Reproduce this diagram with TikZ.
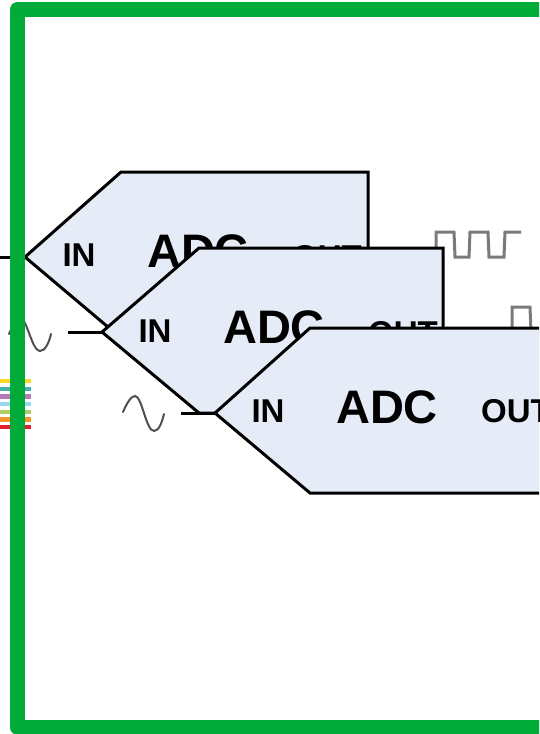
\documentclass[tikz,border=0pt]{standalone}
\usepackage{fontspec}
\setmainfont{Liberation Sans}
\definecolor{frameg}{HTML}{00AB39}
\definecolor{adcfill}{HTML}{E6ECF7}
\definecolor{wavegray}{HTML}{7A7A7A}
\definecolor{sinegray}{HTML}{505050}
\tikzset{
  adcshape/.style={draw=black,fill=adcfill,line width=3pt,line join=miter},
  wire/.style={draw=black,line width=3pt},
  sinewave/.style={draw=sinegray,line width=2pt,line cap=round},
  sqwave/.style={draw=wavegray,line width=3pt,line join=miter},
  busbar/.style={line width=4.4pt,line cap=butt},
  intext/.style={font=\bfseries\fontsize{33}{33}\selectfont,inner sep=0pt,text=black},
  adctext/.style={font=\bfseries\fontsize{47}{47}\selectfont,inner sep=0pt,text=black},
}
\begin{document}
\begin{tikzpicture}[x=1pt,y=-1pt]
\useasboundingbox (0,0) rectangle (539,734);
\clip (0,0) rectangle (539,734);
\fill[white] (0,0) rectangle (539,734);
% coordinates
\coordinate (w1) at (0,257);
\coordinate (a1) at (25,257);
\coordinate (w2) at (68,332);
\coordinate (a2) at (102,332);
\coordinate (w3) at (181,413);
\coordinate (a3) at (215,413);
% wires
\draw[wire] (w1) -- (a1);
\draw[wire] (w2) -- (a2);
\draw[wire] (w3) -- (a3);
% colour bus
\draw[busbar,color={rgb,255:red,255;green,214;blue,40}] (-2,381) -- (30.5,381);
\draw[busbar,color={rgb,255:red,70;green,176;blue,172}] (-2,388.7) -- (30.5,388.7);
\draw[busbar,color={rgb,255:red,181;green,122;blue,181}] (-2,396.3) -- (30.5,396.3);
\draw[busbar,color={rgb,255:red,153;green,217;blue,240}] (-2,404) -- (30.5,404);
\draw[busbar,color={rgb,255:red,176;green,205;blue,100}] (-2,411.7) -- (30.5,411.7);
\draw[busbar,color={rgb,255:red,247;green,148;blue,40}] (-2,419.3) -- (30.5,419.3);
\draw[busbar,color={rgb,255:red,227;green,30;blue,50}] (-2,427) -- (30.5,427);
% sine waves
\draw[sinewave] (9,334) .. controls (13,325) and (18,319) .. (21,319)
  .. controls (27,319) and (32,351) .. (40,351) .. controls (45,351) and (49,343) .. (51,334);
\draw[sinewave] (123,412) .. controls (127,403) and (131,396) .. (135,396)
  .. controls (142,396) and (146,431) .. (154,431) .. controls (159,431) and (162,422) .. (164,414);
% shape 1
\coordinate (s1a) at (121,172);
\coordinate (s1b) at (368,172);
\coordinate (s1c) at (368,338);
\coordinate (s1d) at (121,338);
\draw[adcshape] (a1) -- (s1a) -- (s1b) -- (s1c) -- (s1d) -- cycle;
\node[intext] (in1) at (79,255) {IN};
\node[adctext] (adc1) at (198,251) {ADC};
\node[intext] (out1) at (327,257) {OUT};
% square wave 1
\draw[sqwave] (436,250) -- (436,232) -- (454,232) -- (455,257) -- (469,257) -- (470,232) -- (488,232) -- (489,257) -- (504,257) -- (505,232) -- (521,232);
% shape 2
\coordinate (s2a) at (199,248);
\coordinate (s2b) at (443,248);
\coordinate (s2c) at (443,413);
\coordinate (s2d) at (199,413);
\draw[adcshape] (a2) -- (s2a) -- (s2b) -- (s2c) -- (s2d) -- cycle;
\node[intext] (in2) at (155,331) {IN};
\node[adctext] (adc2) at (274,327) {ADC};
\node[intext] (out2) at (403,333) {OUT};
% square wave 2
\draw[sqwave] (512,330) -- (512,307) -- (530,307) -- (531,332) -- (545,332);
% shape 3
\coordinate (s3a) at (310,328);
\coordinate (s3b) at (556,328);
\coordinate (s3c) at (556,493);
\coordinate (s3d) at (310,493);
\draw[adcshape] (a3) -- (s3a) -- (s3b) -- (s3c) -- (s3d) -- cycle;
\node[intext] (in3) at (268,411) {IN};
\node[adctext] (adc3) at (387,407) {ADC};
\node[intext] (out3) at (516,411) {OUT};
% frame
\draw[frameg,line width=15pt,line join=round] (560,9.5) -- (17.5,9.5) -- (17.5,727) -- (560,727);
\end{tikzpicture}
\end{document}
